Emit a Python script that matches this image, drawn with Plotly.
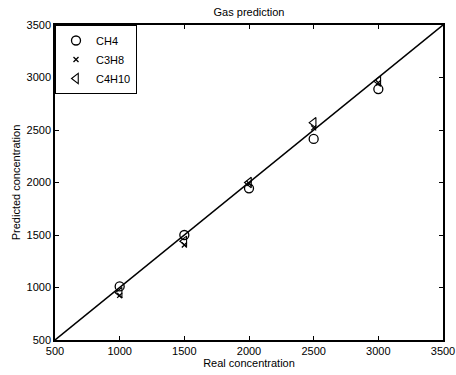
import plotly.graph_objects as go

real = [1000, 1500, 2000, 2500, 3000]
ch4 = [1010, 1500, 1945, 2415, 2890]
c3h8 = [925, 1405, 1990, 2520, 2950]
c4h10 = [950, 1440, 2000, 2570, 2965]
line_x = [500, 3500]
line_y = [500, 3500]
ticks = [500, 1000, 1500, 2000, 2500, 3000, 3500]

FONT = dict(family="Liberation Sans, Arial", size=11, color="black")

fig = go.Figure()
fig.add_trace(go.Scatter(x=line_x, y=line_y, mode="lines",
                         line=dict(color="black", width=1.5), showlegend=False))
fig.add_trace(go.Scatter(x=real, y=ch4, mode="markers", name="CH4",
                         marker=dict(symbol="circle-open", size=9, color="black",
                                     line=dict(width=1.3))))
fig.add_trace(go.Scatter(x=real, y=c3h8, mode="markers", name="C3H8",
                         marker=dict(symbol="x-thin-open", size=5, color="black",
                                     line=dict(width=1.3))))
fig.add_trace(go.Scatter(x=real, y=c4h10, mode="markers", name="C4H10",
                         marker=dict(symbol="triangle-left-open", size=9, color="black",
                                     line=dict(width=1.1))))

axis_common = dict(range=[500, 3500], tickvals=ticks, ticks="inside", ticklen=4,
                   tickcolor="black", showline=True, linecolor="black", linewidth=1.5,
                   mirror="ticks", showgrid=False, zeroline=False, automargin=False,
                   tickfont=FONT)

fig.update_layout(
    width=456, height=375,
    margin=dict(l=55, r=13, t=25, b=35, autoexpand=False),
    paper_bgcolor="white", plot_bgcolor="white",
    title=dict(text="Gas prediction", x=0.5, xanchor="center", y=1 - 12 / 375,
               yref="container", yanchor="middle", xref="paper", automargin=False,
               font=FONT),
    xaxis=dict(**axis_common, title=dict(text="Real concentration", standoff=2, font=FONT)),
    yaxis=dict(**axis_common, title=dict(text="Predicted concentration", standoff=4, font=FONT)),
    legend=dict(x=0, y=1, xanchor="left", yanchor="top", bgcolor="white",
                bordercolor="black", borderwidth=1, tracegroupgap=0,
                font=FONT, itemwidth=30),
    showlegend=True,
)

fig.write_html("out.html", config={"displayModeBar": False},
               post_script="document.body.style.margin='0';document.body.style.padding='0';")
